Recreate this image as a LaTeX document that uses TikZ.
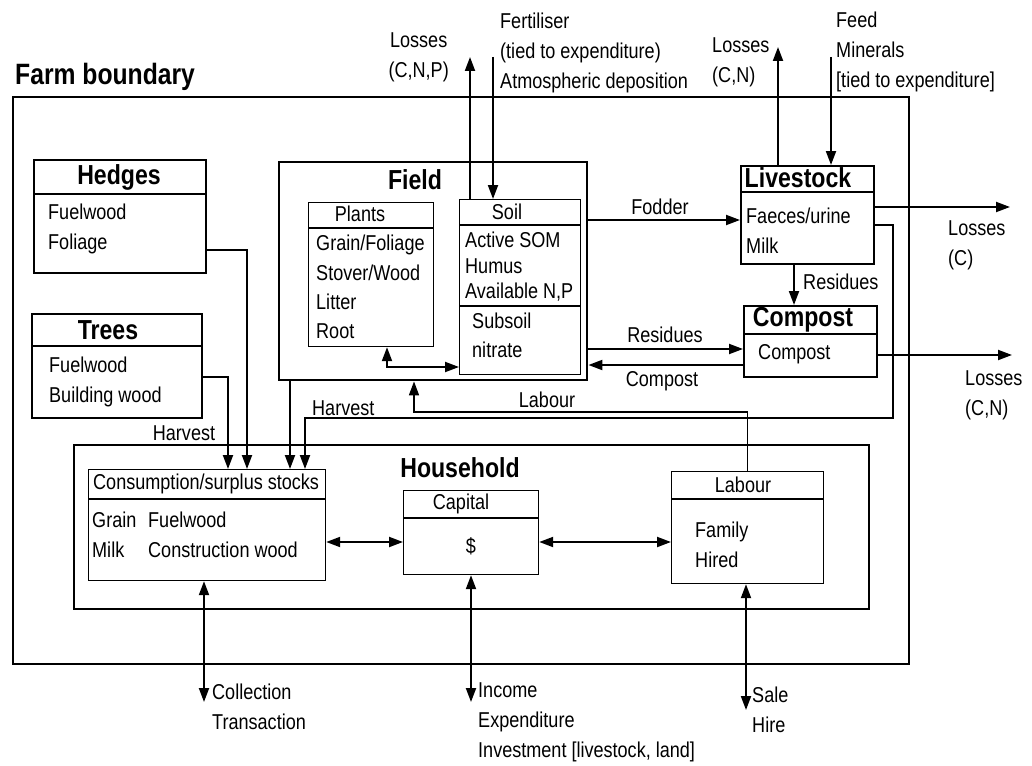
\documentclass[tikz,border=0pt]{standalone}
\usepackage{fontspec}
\setmainfont{Liberation Sans}[FakeStretch=0.84]
\usetikzlibrary{arrows.meta}

\begin{document}
\begin{tikzpicture}[
    x=1pt, y=-1pt,
    % Caixas grossas (limites)
    quadro/.style={draw, line width=2.4pt, anchor=north west, inner sep=0pt},
    % Caixas de componentes
    caixa/.style={draw, line width=2.1pt, anchor=north west, inner sep=0pt},
    % Caixas finas (subcomponentes)
    fina/.style={draw, line width=1.2pt, anchor=north west, inner sep=0pt},
    divisoria/.style={line width=2.3pt},
    % Textos
    titulo/.style={font=\fontsize{27.5}{30}\selectfont\bfseries, inner sep=0pt},
    rotulo/.style={font=\fontsize{21.5}{30}\selectfont, inner sep=0pt, align=left},
    % Setas
    fluxo/.style={line width=2pt, -{Triangle[length=14pt,width=10pt]}},
    troca/.style={line width=2pt, {Triangle[length=14pt,width=10pt]}-{Triangle[length=14pt,width=10pt]}}
  ]

  \useasboundingbox (0,0) rectangle (1032,765);

  % Limite da fazenda
  \node[quadro, minimum width=896, minimum height=567] (fazenda) at (12,96) {};
  \node[titulo, font=\fontsize{29.4}{30}\selectfont\bfseries, anchor=west] (fazendaT) at (15,77) {Farm boundary};

  % Sebes
  \node[caixa, minimum width=172, minimum height=113] (sebes) at (33,159) {};
  \draw[line width=2.1pt] (sebes.north west |- 0,194) -- (sebes.north east |- 0,194);
  \node[titulo] (sebesT) at (119,177) {Hedges};
  \node[rotulo, anchor=west] (sebesI) at (48,229) {Fuelwood\\Foliage};

  % Arvores
  \node[caixa, minimum width=170, minimum height=104] (arvores) at (31,313) {};
  \draw[line width=2.1pt] (arvores.north west |- 0,346) -- (arvores.north east |- 0,346);
  \node[titulo] (arvoresT) at (108,330) {Trees};
  \node[rotulo, anchor=west] (arvoresI) at (49,382) {Fuelwood\\Building wood};

  % Campo
  \node[quadro, minimum width=308, minimum height=218] (campo) at (278,161) {};
  \node[titulo] (campoT) at (415,180) {Field};

  % Plantas
  \node[fina, minimum width=125, minimum height=144] (plantas) at (308,202) {};
  \draw[divisoria] (plantas.north west |- 0,228) -- (plantas.north east |- 0,228);
  \node[rotulo] (plantasT) at (360,214) {Plants};
  \node[rotulo, anchor=west, font=\fontsize{21.5}{29.3}\selectfont] (plantasI) at (316,287) {Grain/Foliage\\Stover/Wood\\Litter\\Root};

  % Solo
  \node[fina, minimum width=121, minimum height=175] (solo) at (459,199) {};
  \draw[divisoria] (solo.north west |- 0,225) -- (solo.north east |- 0,225);
  \draw[divisoria] (solo.north west |- 0,306) -- (solo.north east |- 0,306);
  \node[rotulo] (soloT) at (507,212) {Soil};
  \node[rotulo, anchor=west, font=\fontsize{21.5}{25.5}\selectfont] (soloI) at (465,267) {Active SOM\\Humus\\Available N,P};
  \node[rotulo, anchor=west, font=\fontsize{21.5}{29}\selectfont] (subsolo) at (472,335) {Subsoil\\nitrate};

  % Gado
  \node[caixa, minimum width=133, minimum height=98] (gado) at (740,165) {};
  \draw[line width=2.1pt] (gado.north west |- 0,192) -- (gado.north east |- 0,192);
  \node[titulo] (gadoT) at (798,178) {Livestock};
  \node[rotulo, anchor=west] (gadoI) at (746,231) {Faeces/urine\\Milk};

  % Composto
  \node[caixa, minimum width=133, minimum height=71] (composto) at (743,305) {};
  \draw[line width=2.1pt] (composto.north west |- 0,334) -- (composto.north east |- 0,334);
  \node[titulo] (compostoT) at (803,320) {Compost};
  \node[rotulo, anchor=west] (compostoI) at (758,354) {Compost};

  % Unidade familiar
  \node[caixa, minimum width=795, minimum height=164] (casa) at (73,444) {};
  \node[titulo] (casaT) at (460,468) {Household};

  % Estoques
  \node[fina, minimum width=237, minimum height=111] (estoque) at (88,469) {};
  \draw[divisoria] (estoque.north west |- 0,499) -- (estoque.north east |- 0,499);
  \node[rotulo, anchor=west] (estoqueT) at (93,484) {Consumption/surplus stocks};
  \node[rotulo, anchor=west] (estoqueA) at (92,535) {Grain\\Milk};
  \node[rotulo, anchor=west] (estoqueB) at (148,535) {Fuelwood\\Construction wood};

  % Capital
  \node[fina, minimum width=135, minimum height=84] (capital) at (403,490) {};
  \draw[divisoria] (capital.north west |- 0,518) -- (capital.north east |- 0,518);
  \node[rotulo] (capitalT) at (461,504) {Capital};
  \node[rotulo] (capitalI) at (471,546) {\$};

  % Trabalho
  \node[fina, minimum width=152, minimum height=112] (trabalho) at (671,471) {};
  \draw[divisoria] (trabalho.north west |- 0,499) -- (trabalho.north east |- 0,499);
  \node[rotulo] (trabalhoT) at (743,485) {Labour};
  \node[rotulo, anchor=west] (trabalhoI) at (695,545) {Family\\Hired};

  % Entradas e perdas do solo
  \coordinate (perdasCNP) at (470,57);
  \draw[fluxo] (solo.north -| perdasCNP) -- (perdasCNP);
  \node[rotulo, align=center, anchor=east] (perdasCNPT) at (449,57) {Losses\\(C,N,P)};
  \coordinate (adubo) at (493,57);
  \draw[fluxo] (adubo) -- (adubo |- solo.north);
  \node[rotulo, anchor=west] (aduboT) at (500,53) {Fertiliser\\(tied to expenditure)\\Atmospheric deposition};

  % Entradas e perdas do gado
  \coordinate (perdasCN) at (778,47);
  \draw[fluxo] (gado.north -| perdasCN) -- (perdasCN);
  \node[rotulo, anchor=west] (perdasCNT) at (712,62) {Losses\\(C,N)};
  \coordinate (racao) at (831,57);
  \draw[fluxo] (racao) -- (racao |- gado.north);
  \node[rotulo, anchor=west] (racaoT) at (836,52) {Feed\\Minerals\\{[}tied to expenditure{]}};

  % Forragem
  \draw[fluxo] (campo.east |- 0,220) -- (gado.west |- 0,220);
  \node[rotulo] (forragemT) at (660,207) {Fodder};

  % Perdas (C)
  \coordinate (perdasC) at (1010,207);
  \draw[fluxo] (gado.east |- perdasC) -- (perdasC);
  \node[rotulo, anchor=west] (perdasCT) at (948,245) {Losses\\(C)};

  % Residuos do gado
  \draw[fluxo] (gado.south -| 794,0) -- (composto.north -| 794,0);
  \node[rotulo, anchor=west] (residuosT) at (803,282) {Residues};

  % Perdas do composto
  \coordinate (perdasCN2) at (1012,355);
  \draw[fluxo] (composto.east |- perdasCN2) -- (perdasCN2);
  \node[rotulo, anchor=west] (perdasCN2T) at (965,395) {Losses\\(C,N)};

  % Residuos e composto
  \draw[fluxo] (campo.east |- 0,349) -- (composto.west |- 0,349);
  \node[rotulo] (residuos2T) at (665,335) {Residues};
  \draw[fluxo] (composto.west |- 0,365) -- (campo.east |- 0,365);
  \node[rotulo] (composto2T) at (662,381) {Compost};

  % Trabalho no campo
  \draw[fluxo, line width=1.6pt] (trabalho.north) |- (414,412) -- (414,412 |- campo.south);
  \node[rotulo] (trabalho2T) at (547,400) {Labour};

  % Colheitas
  \draw[fluxo] (gado.east |- 0,225) -| (893,418) -| (estoque.north -| 305,0);
  \node[rotulo, anchor=south west] (colheita1T) at (312,416) {Harvest};
  \draw[fluxo] (campo.south -| 290,0) -- (estoque.north -| 290,0);
  \draw[fluxo] (sebes.east |- 0,250) -| (estoque.north -| 247,0);
  \draw[fluxo] (arvores.east |- 0,377) -| (estoque.north -| 228,0);
  \node[rotulo] (colheita2T) at (184,433) {Harvest};

  % Plantas e solo
  \draw[troca] (plantas.south -| 387,0) |- (solo.west |- 0,367);

  % Trocas internas
  \draw[troca] (estoque.east |- 0,542) -- (capital.west |- 0,542);
  \draw[troca] (capital.east |- 0,542) -- (trabalho.west |- 0,542);

  % Trocas externas
  \coordinate (coleta) at (204,702);
  \draw[troca] (estoque.south -| coleta) -- (coleta);
  \node[rotulo, anchor=west] (coletaT) at (212,707) {Collection\\Transaction};
  \coordinate (renda) at (471,702);
  \draw[troca] (capital.south -| renda) -- (renda);
  \node[rotulo, anchor=west] (rendaT) at (478,722) {Income\\Expenditure\\Investment [livestock, land]};
  \coordinate (venda) at (746,710);
  \draw[troca] (trabalho.south -| venda) -- (venda);
  \node[rotulo, anchor=west] (vendaT) at (752,710) {Sale\\Hire};

\end{tikzpicture}
\end{document}
